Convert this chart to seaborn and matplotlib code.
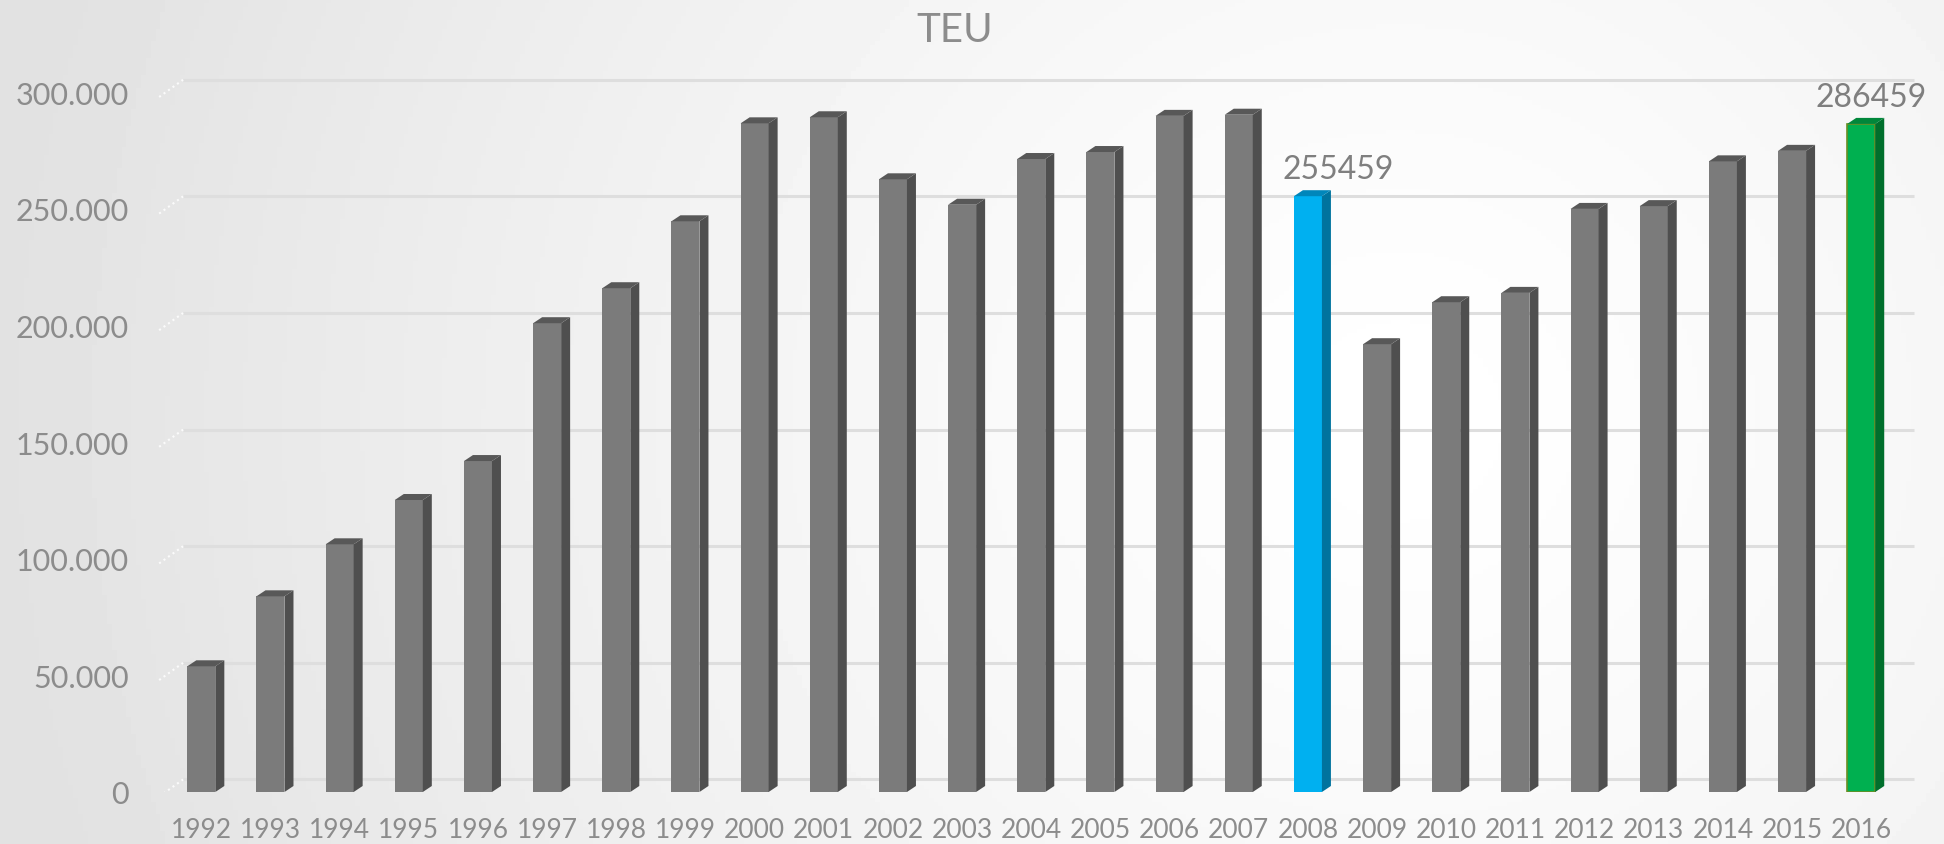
import numpy as np
import matplotlib
matplotlib.use("Agg")
import matplotlib.pyplot as plt
from matplotlib.patches import Polygon
import seaborn as sns

sns.set_style("white")
plt.rcParams['font.family'] = ['Lato', 'DejaVu Sans']

# data
years = [str(y) for y in range(1992, 2017)]
teu = [53900, 83900, 106200, 125200, 141900, 201000, 216000, 244700,
       286700, 289300, 262700, 251800, 271400, 274400, 289900, 290400,
       255459, 192000, 210000, 214000, 250000, 251200, 270400, 274900,
       286459]
labelled = ["2008", "2016"]
y_ticks = [0, 50000, 100000, 150000, 200000, 250000, 300000]

# colours (front, side, top)
grey = ("#7b7b7b", "#4f4f4f", "#585858")
blue = ("#00b0f0", "#00739e", "#0086ba")
green = ("#00b050", "#006f2c", "#00873a")
bar_style = {y: grey for y in years}
bar_style["2008"] = blue
bar_style["2016"] = green
label_shift = {"2008": 30, "2016": 10}  # px, horizontal nudge of data labels

text_col = "#8c8c8c"

fig = plt.figure(figsize=(19.44, 8.45), dpi=100)

# background gradient
bg = fig.add_axes([0, 0, 1, 1], zorder=-10)
gx, gy = np.meshgrid(np.linspace(0, 1, 400), np.linspace(0, 1, 200))
d = np.sqrt(((gx - 0.72) / 0.72) ** 2 + ((gy - 0.5) / 1.6) ** 2)
grad = 1.0 - 0.115 * np.clip(d, 0, 1) ** 1.3
bg.imshow(grad, cmap="gray", vmin=0, vmax=1, aspect="auto",
          extent=[0, 1, 0, 1], origin="lower")
bg.axis("off")

ax = fig.add_axes([0.07716, 0.06154, 0.9105, 0.8675])
ax.set_facecolor("none")

sns.barplot(x=years, y=teu, hue=years,
            palette=[bar_style[y][0] for y in years],
            saturation=1, width=0.405, legend=False, ax=ax, zorder=2,
            edgecolor="none", linewidth=0)

xlo, xhi = -0.742, 24.85
ylo, yhi = 0, 314300
ax.set_xlim(xlo, xhi)
ax.set_ylim(ylo, yhi)

# depth of the pseudo-3D bars, in data units
dx = 9 / 69.17
dy = 6 / 0.002332
back = 12.5 / 0.002332

bars = sorted(ax.patches, key=lambda p: p.get_x())
for p, y in zip(bars, years):
    front, side, top = bar_style[y]
    x0 = p.get_x()
    x1 = x0 + p.get_width()
    h = p.get_height()
    if y == "2016":
        p.set_edgecolor("#6b8e23")
        p.set_linewidth(1.2)
    ax.add_patch(Polygon([(x1, 0), (x1 + dx, dy), (x1 + dx, h + dy), (x1, h)],
                         closed=True, facecolor=side, edgecolor="none", zorder=2))
    ax.add_patch(Polygon([(x0, h), (x1, h), (x1 + dx, h + dy), (x0 + dx, h + dy)],
                         closed=True, facecolor=top, edgecolor="none", zorder=2))
    if y in labelled:
        ax.annotate(str(teu[years.index(y)]), ((x0 + x1) / 2, h),
                    xytext=(label_shift[y], 18), textcoords="offset pixels",
                    ha="center", va="baseline", fontsize=23, color="#7f7f7f")

# grid lines on the back wall plus the little diagonals to the labels
gx0 = (183 - 201.3) / 69.17
gx1 = (1914 - 201.3) / 69.17
for t in y_ticks:
    ax.hlines(t + back, gx0, gx1, color="#dedede", lw=2.2, zorder=0.5)
    ax.plot([-0.61, gx0], [t - 2000, t + back], ls=":", color="#fbfbfb",
            lw=1.5, zorder=0.5)

ax.set_yticks(y_ticks)
ax.set_yticklabels([f"{t:,}".replace(",", ".") for t in y_ticks])
ax.tick_params(axis="y", length=0, pad=15, labelsize=22, labelcolor=text_col)
ax.tick_params(axis="x", length=0, pad=18, labelsize=19, labelcolor=text_col)
ax.set_xlabel("")
ax.set_ylabel("")
for s in ax.spines.values():
    s.set_visible(False)
ax.grid(False)

fig.text(955 / 1944, 1 - 30 / 845, "TEU", ha="center", va="center",
         fontsize=29, color=text_col)

fig.savefig("out.png", dpi=100)
